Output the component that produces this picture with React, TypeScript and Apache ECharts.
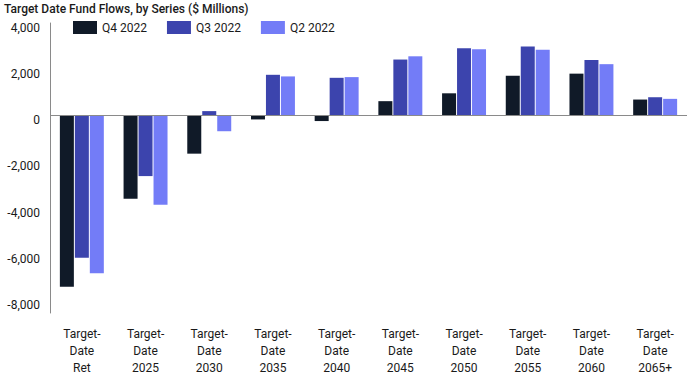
import React, { useEffect, useRef } from "react";
import * as echarts from "echarts";

const categories = [
  "Target-\nDate\nRet",
  "Target-\nDate\n2025",
  "Target-\nDate\n2030",
  "Target-\nDate\n2035",
  "Target-\nDate\n2040",
  "Target-\nDate\n2045",
  "Target-\nDate\n2050",
  "Target-\nDate\n2055",
  "Target-\nDate\n2060",
  "Target-\nDate\n2065+",
];
const q4_2022 = [-7400, -3600, -1650, -170, -240, 620, 960, 1720, 1810, 690];
const q3_2022 = [-6150, -2620, 190, 1760, 1630, 2420, 2910, 2980, 2400, 790];
const q2_2022 = [-6820, -3860, -680, 1690, 1660, 2560, 2870, 2840, 2220, 720];
const seriesNames = ["Q4 2022", "Q3 2022", "Q2 2022"];
const colors = ["#101a28", "#3c44ad", "#737cf7"];
const yTicks = [-8000, -6000, -4000, -2000, 0, 2000, 4000];
const yMin = -8540;
const yMax = 4000;

const FONT = "Roboto, sans-serif";

export default function App() {
  const ref = useRef<HTMLDivElement>(null);
  useEffect(() => {
    if (!ref.current) return;
    const chart = echarts.init(ref.current, undefined, { renderer: "svg" });
    const data = [q4_2022, q3_2022, q2_2022];
    chart.setOption({
      animation: false,
      color: colors,
      textStyle: { fontFamily: FONT },
      title: {
        text: "Target Date Fund Flows, by Series ($ Millions)",
        left: 4,
        top: 3,
        padding: 0,
        textStyle: { fontFamily: FONT, fontSize: 12, fontWeight: 500, color: "#1a1a1a" },
      },
      legend: {
        left: 73,
        top: 21,
        padding: 0,
        itemWidth: 24,
        itemHeight: 13,
        itemGap: 20,
        icon: "rect",
        textStyle: { fontFamily: FONT, fontSize: 12, color: "#1a1a1a" },
        data: seriesNames,
      },
      grid: { left: 50, right: 4, top: 23, bottom: 62, containLabel: false },
      xAxis: {
        type: "category",
        data: categories,
        position: "bottom",
        axisLine: { show: false, onZero: false },
        axisTick: { show: false },
        axisLabel: {
          interval: 0,
          margin: 12,
          fontFamily: FONT,
          fontSize: 12,
          lineHeight: 17,
          color: "#1a1a1a",
        },
      },
      yAxis: {
        type: "value",
        min: yMin,
        max: yMax,
        axisLine: { show: true, lineStyle: { color: "#8a8a8a", width: 1 } },
        axisTick: { show: false },
        splitLine: { show: false },
        axisLabel: {
          customValues: yTicks,
          margin: 10,
          fontFamily: FONT,
          fontSize: 12,
          color: "#1a1a1a",
          verticalAlign: "top",
          lineHeight: 9,
          formatter: (v: number) => v.toLocaleString("en-US"),
        },
      },
      series: seriesNames.map((name, i) => ({
        name,
        type: "bar",
        data: data[i],
        barWidth: 14,
        barGap: "7%",
        itemStyle: { color: colors[i] },
        markLine:
          i === 0
            ? {
                silent: true,
                symbol: "none",
                label: { show: false },
                lineStyle: { color: "#8a8a8a", width: 1, type: "solid" },
                data: [{ yAxis: 0 }],
              }
            : undefined,
      })),
    });
    return () => chart.dispose();
  }, []);
  return (
    <div
      ref={ref}
      style={{ position: "fixed", left: 0, top: 0, width: 691, height: 376, background: "#fff" }}
    />
  );
}
